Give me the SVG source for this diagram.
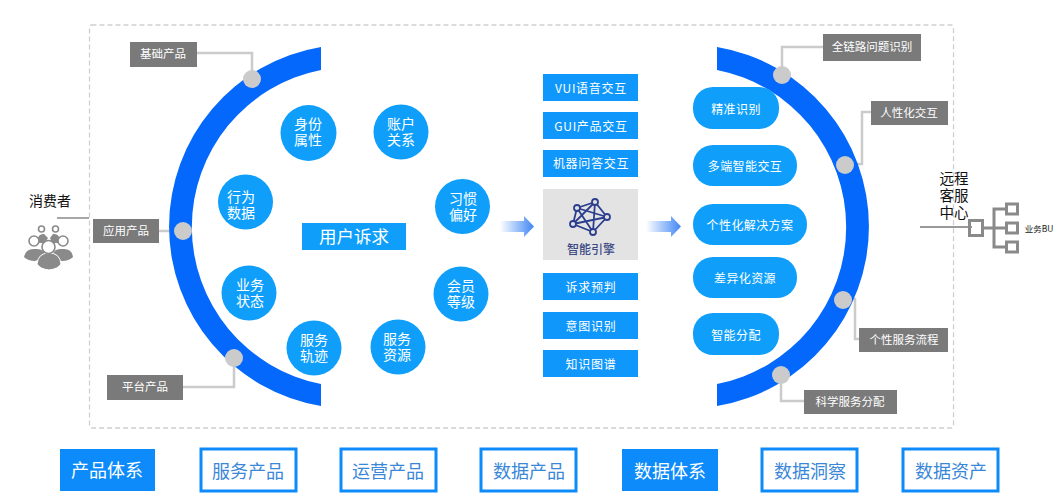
<svg xmlns="http://www.w3.org/2000/svg" width="1060" height="500" viewBox="0 0 1060 500">
<style>
text{font-family:"Noto Sans CJK SC","Noto Sans",sans-serif;text-anchor:middle;dominant-baseline:central}
.arc{fill:#0468fc}
.dot{fill:#cbcbcb}
.tag rect{fill:#7a7a7a}
.tag text{fill:#fff;font-size:11.5px}
.ball circle{fill:#0f9ffb}
.ball text{fill:#fff;font-size:14px}
.mid rect{fill:#0f97fb}
.mid text{fill:#fff;font-size:12px;letter-spacing:.7px}
.pill rect{fill:#0f9ffb}
.pill text{fill:#fff;font-size:12px;letter-spacing:.4px}
.out rect{fill:#fff;stroke:#0d8bfa;stroke-width:3}
.out text{fill:#3a87d8;font-size:18px}
.fill rect{fill:#0d8bfa}
.fill text{fill:#fff;font-size:18px}
.link{fill:none;stroke:#cbcbcb;stroke-width:2.5}
.grey{fill:none;stroke:#8a8a8a;stroke-width:3}
.ic{fill:#8a8a8a}
.icr{fill:#fff;stroke:#8a8a8a;stroke-width:1.6}
</style>
<defs>
<linearGradient id="fade"><stop offset="0" stop-color="#3f86f5" stop-opacity="0"/><stop offset="1" stop-color="#3f86f5"/></linearGradient>
</defs>
<rect id="frame" x="89.5" y="25" width="864" height="403" rx="2" fill="none" stroke="#cfcfcf" stroke-width="1.3" stroke-dasharray="5 3"/>
<g id="connectors">
<path class="link" d="M197 53H252V72"/>
<path class="link" d="M159 231H176"/>
<path class="link" d="M183 387H234V360"/>
<path class="link" d="M823 47H782V68"/>
<path class="link" d="M871 112H862V164H848"/>
<path class="link" d="M849 299H855V339H859"/>
<path class="link" d="M781 378V401H804"/>
<path d="M57 218H89" fill="none" stroke="#777" stroke-width="1.3"/>
<path d="M920 227H972" fill="none" stroke="#777" stroke-width="1.3"/>
</g>
<g id="arc-left">
<path class="arc" d="M321 47A182 182 0 0 0 321 406V384A160 160 0 0 1 321 70Z"/>
<circle class="dot" cx="252" cy="79" r="9"/><circle class="dot" cx="183" cy="231" r="9"/><circle class="dot" cx="234" cy="358" r="9"/>
</g>
<g id="arc-right">
<path class="arc" d="M717 47A182 182 0 0 1 717 406V384A160 160 0 0 0 717 70Z"/>
<circle class="dot" cx="782" cy="75" r="9"/><circle class="dot" cx="845" cy="165" r="9"/><circle class="dot" cx="843" cy="300" r="9"/><circle class="dot" cx="781" cy="375" r="9"/>
</g>
<g id="tag-jichu" class="tag"><rect x="130" y="42" width="67" height="25"/><text x="163" y="53">基础产品</text></g>
<g id="tag-yingyong" class="tag"><rect x="93" y="219" width="66" height="24"/><text x="126" y="230">应用产品</text></g>
<g id="tag-pingtai" class="tag"><rect x="107" y="375" width="76" height="25"/><text x="145" y="386">平台产品</text></g>
<g id="tag-quanlian" class="tag"><rect x="823" y="34" width="98" height="27"/><text x="872" y="46">全链路问题识别</text></g>
<g id="tag-renxing" class="tag"><rect x="871" y="101" width="77" height="24"/><text x="909" y="112">人性化交互</text></g>
<g id="tag-gexing" class="tag"><rect x="859" y="328" width="89" height="24"/><text x="904" y="339">个性服务流程</text></g>
<g id="tag-kexue" class="tag"><rect x="804" y="390" width="93" height="24"/><text x="850" y="401">科学服务分配</text></g>
<g id="b1" class="ball"><circle cx="308.500" cy="133" r="28"/><text y="123"><tspan x="308">身份</tspan><tspan x="308" dy="16">属性</tspan></text></g>
<g id="b2" class="ball"><circle cx="401" cy="132" r="27.500"/><text y="123"><tspan x="401">账户</tspan><tspan x="401" dy="16">关系</tspan></text></g>
<g id="b3" class="ball"><circle cx="245.500" cy="202" r="27.500"/><text y="196"><tspan x="241">行为</tspan><tspan x="241" dy="16">数据</tspan></text></g>
<g id="b4" class="ball"><circle cx="462.500" cy="206.500" r="27.500"/><text y="198"><tspan x="463">习惯</tspan><tspan x="463" dy="16">偏好</tspan></text></g>
<g id="b5" class="ball"><circle cx="461" cy="294" r="27.500"/><text y="285"><tspan x="461">会员</tspan><tspan x="461" dy="16">等级</tspan></text></g>
<g id="b6" class="ball"><circle cx="249" cy="293" r="27.500"/><text y="284"><tspan x="250">业务</tspan><tspan x="250" dy="16">状态</tspan></text></g>
<g id="b7" class="ball"><circle cx="314" cy="348" r="27.500"/><text y="339"><tspan x="314">服务</tspan><tspan x="314" dy="16">轨迹</tspan></text></g>
<g id="b8" class="ball"><circle cx="398" cy="347" r="27.500"/><text y="338"><tspan x="397">服务</tspan><tspan x="397" dy="16">资源</tspan></text></g>
<g id="center-label"><rect x="302" y="223" width="104" height="27" fill="#0f9ffb"/><text x="354" y="235" fill="#fff" font-size="17.500">用户诉求</text></g>
<g id="arrow-left"><path d="M500 221H524V216L534 226.500L524 237V232H500Z" fill="url(#fade)"/></g>
<g id="arrow-right"><path d="M646 221H671V216L681 226.500L671 237V232H646Z" fill="url(#fade)"/></g>
<g id="m1" class="mid"><rect x="543" y="74" width="95" height="27"/><text x="591" y="87">VUI语音交互</text></g>
<g id="m2" class="mid"><rect x="543" y="112" width="95" height="27"/><text x="591" y="125">GUI产品交互</text></g>
<g id="m3" class="mid"><rect x="543" y="150" width="95" height="27"/><text x="591" y="162.500">机器问答交互</text></g>
<g id="engine">
<rect x="543" y="189" width="95" height="71" fill="#e4e3e4"/>
<g fill="none" stroke="#2b3f8e" stroke-width="1.800">
<path d="M577 208L595 202L607 217L593 232L573 224ZM577 208L607 217M577 208L593 232M595 202L593 232M595 202L573 224M573 224L607 217"/>
</g>
<g fill="#e4e3e4" stroke="#2b3f8e" stroke-width="1.800">
<circle cx="577" cy="208" r="3"/><circle cx="595" cy="202" r="3"/><circle cx="607" cy="217" r="3"/><circle cx="593" cy="232" r="3"/><circle cx="573" cy="224" r="3"/>
</g>
<text x="591" y="248.500" fill="#3b4b85" font-size="12" font-weight="500">智能引擎</text>
</g>
<g id="m4" class="mid"><rect x="543" y="273" width="95" height="27"/><text x="591" y="286">诉求预判</text></g>
<g id="m5" class="mid"><rect x="543" y="312" width="95" height="27"/><text x="591" y="325">意图识别</text></g>
<g id="m6" class="mid"><rect x="543" y="350" width="95" height="27"/><text x="591" y="363">知识图谱</text></g>
<g id="p1" class="pill"><rect x="693" y="87" width="86" height="42" rx="20"/><text x="736" y="108">精准识别</text></g>
<g id="p2" class="pill"><rect x="693" y="145" width="104" height="41" rx="20"/><text x="745" y="165.500">多端智能交互</text></g>
<g id="p3" class="pill"><rect x="693" y="204" width="114" height="41" rx="20"/><text x="750" y="224.500">个性化解决方案</text></g>
<g id="p4" class="pill"><rect x="693" y="257" width="104" height="41" rx="20"/><text x="745" y="277.500">差异化资源</text></g>
<g id="p5" class="pill"><rect x="693" y="313" width="86" height="42" rx="20"/><text x="736" y="334">智能分配</text></g>
<g id="consumer">
<text x="50" y="199.500" fill="#111" font-size="14">消费者</text>
<path class="ic" d="M37 240Q39 233 44 234L48 238L45 243H39ZM50 238L53 234Q59 233 60 240L58 243H52Z"/>
<circle class="icr" cx="41.500" cy="229" r="3"/><circle class="icr" cx="55.500" cy="229" r="3"/>
<path class="ic" d="M24 257Q26 248 35 249Q44 248 46 256Q40 260 35 261Q28 261 24 257ZM52 256Q54 248 62 249Q72 248 73 257Q69 261 62 261Q57 261 52 256Z"/>
<circle class="icr" cx="34" cy="241" r="5"/><circle class="icr" cx="63" cy="241" r="5"/>
<path class="ic" d="M37 264Q38 253 49 253Q60 253 61 264Q58 269 49 270Q40 269 37 264Z" stroke="#fff"/>
<circle class="icr" cx="48.500" cy="247" r="6.500"/>
</g>
<g id="remote-center">
<text y="177" fill="#111" font-size="14.500"><tspan x="954">远程</tspan><tspan x="954" dy="17">客服</tspan><tspan x="954" dy="17">中心</tspan></text>
<rect class="grey" x="969.500" y="220.500" width="13" height="15"/>
<path class="grey" d="M983 228H1006M994 209H1006M994 247H1006M994 207.500V248.500"/>
<rect class="grey" x="1006.500" y="204" width="11" height="10"/>
<rect class="grey" x="1006.500" y="223" width="11" height="10"/>
<rect class="grey" x="1006.500" y="242" width="11" height="10"/>
<text x="1039" y="228" fill="#222" font-size="8.500">业务BU</text>
</g>
<g id="s1" class="fill"><rect x="60" y="449" width="95" height="42"/><text x="107" y="469">产品体系</text></g>
<g id="s2" class="out"><rect x="201" y="449" width="95" height="42"/><text x="248" y="469.500">服务产品</text></g>
<g id="s3" class="out"><rect x="341" y="449" width="95" height="42"/><text x="388" y="469.500">运营产品</text></g>
<g id="s4" class="out"><rect x="481" y="449" width="95" height="42"/><text x="529" y="469.500">数据产品</text></g>
<g id="s5" class="fill"><rect x="622" y="449" width="96" height="42"/><text x="670" y="469.500">数据体系</text></g>
<g id="s6" class="out"><rect x="762" y="449" width="95" height="42"/><text x="810" y="469.500">数据洞察</text></g>
<g id="s7" class="out"><rect x="903" y="449" width="95" height="42"/><text x="951" y="469.500">数据资产</text></g>
</svg>
